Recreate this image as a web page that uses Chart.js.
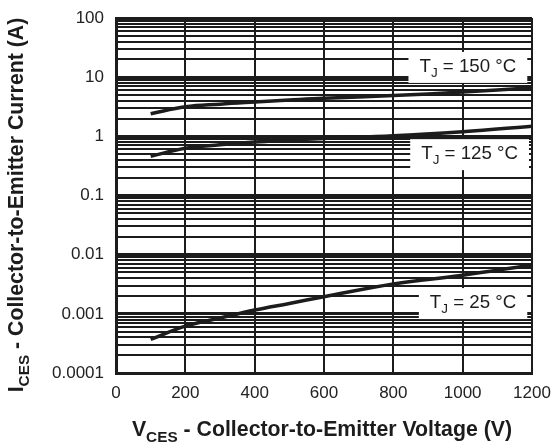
<!DOCTYPE html>
<html>
<head>
<meta charset="utf-8">
<script src="https://cdn.jsdelivr.net/npm/chart.js@4"></script>
<style>
  body { margin: 0; background: #fff; }
  #wrap { width: 552px; height: 444px; }
</style>
</head>
<body>
<div id="wrap"><canvas id="myChart"></canvas></div>
<script>
// Datos
const voltaje = [100, 200, 300, 400, 500, 600, 800, 1000, 1200];
const corriente150 = [2.4, 3.15, 3.5, 3.8, 4.1, 4.4, 4.9, 5.6, 6.6];
const corriente125 = [0.46, 0.63, 0.72, 0.8, 0.86, 0.92, 1.02, 1.2, 1.48];
const corriente25 = [0.00037, 0.00062, 0.00085, 0.00116, 0.0015, 0.00195, 0.0032, 0.0045, 0.0067];

const decadas = [0.0001, 0.001, 0.01, 0.1, 1, 10, 100];
const xTicks = [0, 200, 400, 600, 800, 1000, 1200];

const etiquetas = ['150 °C', '125 °C', '25 °C'];
const etiquetaX = [1015, 1020, 1030];
const etiquetaY = [14.9, 0.5, 0.00152];

const tinta = '#1c1c1c';

function puntos(ys) {
    return voltaje.map((v, i) => ({x: v, y: ys[i]}));
}

function serie(ys) {
    return {
        data: puntos(ys),
        borderColor: tinta,
        borderWidth: 3.5,
        pointRadius: 0,
        tension: 0.4,
        fill: false
    };
}

// Dibuja texto con subindice
function textoSub(ctx, partes, x, y, size, bold) {
    const f = (s) => (bold ? 'bold ' : '') + s + 'px "Liberation Sans", Arial, sans-serif';
    let total = 0;
    partes.forEach(p => {
        ctx.font = f(p.sub ? size * 0.72 : size);
        total += ctx.measureText(p.t).width;
    });
    let cx = x - total / 2;
    ctx.textAlign = 'left';
    ctx.textBaseline = 'middle';
    partes.forEach(p => {
        ctx.font = f(p.sub ? size * 0.72 : size);
        ctx.fillText(p.t, cx, p.sub ? y + size * 0.35 : y);
        cx += ctx.measureText(p.t).width;
    });
    return total;
}

const textos = {
    id: 'textos',
    afterDatasetsDraw(chart) {
        const ctx = chart.ctx;
        const xs = chart.scales.x, ys = chart.scales.y;
        ctx.save();
        etiquetas.forEach((t, i) => {
            const px = xs.getPixelForValue(etiquetaX[i]);
            const py = ys.getPixelForValue(etiquetaY[i]);
            const partes = [{t: 'T'}, {t: 'J', sub: true}, {t: ' = ' + t}];
            let w = 0;
            partes.forEach(p => {
                ctx.font = (p.sub ? 13.5 : 18.7) + 'px "Liberation Sans", Arial, sans-serif';
                w += ctx.measureText(p.t).width;
            });
            ctx.fillStyle = '#fff';
            ctx.fillRect(px - w / 2 - 11, py - 15, w + 22, 31);
            ctx.fillStyle = tinta;
            textoSub(ctx, partes, px, py, 18.7, false);
        });
        ctx.restore();
    },
    afterDraw(chart) {
        const ctx = chart.ctx;
        ctx.save();
        ctx.fillStyle = tinta;
        textoSub(ctx, [{t: 'V'}, {t: 'CES', sub: true}, {t: ' - Collector-to-Emitter Voltage (V)'}], 322, 430, 21.3, true);
        ctx.translate(17, 205);
        ctx.rotate(-Math.PI / 2);
        textoSub(ctx, [{t: 'I'}, {t: 'CES', sub: true}, {t: ' - Collector-to-Emitter Current (A)'}], 0, 0, 21.3, true);
        ctx.restore();
    }
};

const ctx = document.getElementById('myChart');

new Chart(ctx, {
    type: 'line',
    data: {
        datasets: [serie(corriente150), serie(corriente125), serie(corriente25)]
    },
    options: {
        responsive: true,
        maintainAspectRatio: false,
        animation: false,
        layout: { padding: { left: 0, right: 20, top: 18, bottom: 0 } },
        plugins: { legend: { display: false }, tooltip: { enabled: false } },
        scales: {
            x: {
                type: 'linear',
                min: 0,
                max: 1200,
                afterFit: (s) => { s.height = 71; s.paddingLeft = 0; s.paddingRight = 0; },
                afterBuildTicks: (s) => { s.ticks = xTicks.map(v => ({value: v})); },
                grid: { color: tinta, lineWidth: 2, drawTicks: false },
                border: { color: tinta, width: 3 },
                ticks: {
                    padding: 10,
                    color: '#222',
                    maxRotation: 0,
                    font: { family: '"Liberation Sans", Arial, sans-serif', size: 17 },
                    callback: (v) => String(v)
                }
            },
            y: {
                type: 'logarithmic',
                min: 0.0001,
                max: 100,
                afterFit: (s) => { s.width = 116; s.paddingTop = 0; s.paddingBottom = 0; },
                afterBuildTicks: (s) => {
                    const t = [];
                    decadas.forEach((d, i) => {
                        if (i === decadas.length - 1) { t.push({value: d}); return; }
                        for (let k = 1; k <= 9; k++) t.push({value: +(d * k).toPrecision(3)});
                    });
                    s.ticks = t;
                },
                grid: {
                    color: tinta,
                    drawTicks: false,
                    lineWidth: (c) => decadas.includes(c.tick && c.tick.value) ? 3 : 2
                },
                border: { color: tinta, width: 3 },
                ticks: {
                    padding: 12,
                    autoSkip: false,
                    color: '#222',
                    font: { family: '"Liberation Sans", Arial, sans-serif', size: 17 },
                    callback: (v) => decadas.includes(v) ? String(v) : ''
                }
            }
        }
    },
    plugins: [textos]
});
</script>
</body>
</html>
